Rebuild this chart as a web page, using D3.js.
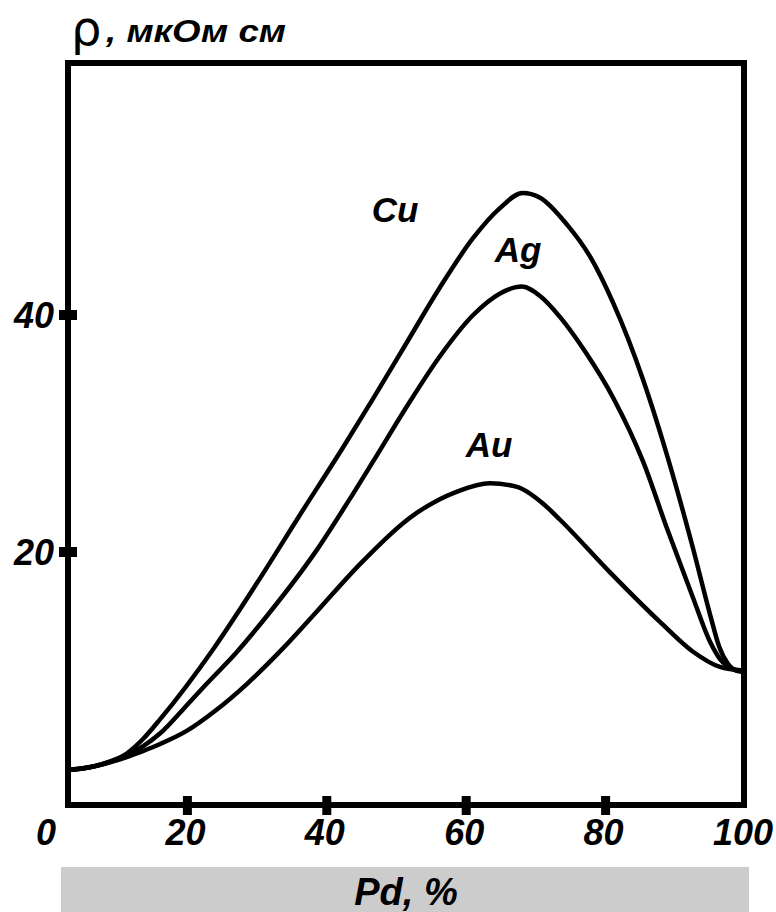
<!DOCTYPE html>
<html>
<head>
<meta charset="utf-8">
<script src="https://cdn.jsdelivr.net/npm/d3@7/dist/d3.min.js"></script>
<style>
  html, body { margin: 0; padding: 0; background: #fff; }
  svg { display: block; }
  .lbl { font-family: "Liberation Sans", Arial, sans-serif; font-weight: bold; font-style: italic; fill: #000; }
</style>
</head>
<body>
<script>
// ---- data (Pd, % vs resistivity, µΩ·cm) ----
const pdCu  = [2.9, 6.5, 11.3, 13.6, 16.1, 23.7, 30.0, 36.0, 42.3, 46.6, 51.5, 56.2, 61.0, 64.8, 68.1, 70.6, 74.5, 77.8, 81.1, 85.4, 89.2, 92.5, 95.0, 96.3, 97.5, 98.7, 99.7];
const rhoCu = [1.6, 1.9, 3.0, 4.2, 5.9, 11.8, 17.4, 23.0, 28.8, 32.9, 37.7, 42.3, 46.5, 49.0, 50.3, 49.9, 47.6, 44.9, 41.0, 34.5, 27.4, 20.4, 14.7, 12.0, 10.6, 10.0, 9.9];

const pdAg  = [2.9, 6.5, 11.3, 13.6, 16.1, 19.5, 22.8, 27.0, 31.4, 38.6, 42.9, 46.6, 51.5, 56.2, 61.0, 64.8, 68.0, 70.6, 73.5, 77.3, 81.1, 85.4, 88.8, 92.5, 95.0, 96.5, 98.0, 99.7];
const rhoAg = [1.6, 1.9, 2.9, 3.6, 4.7, 6.8, 8.9, 11.5, 14.6, 20.2, 24.1, 27.6, 32.3, 36.5, 40.0, 41.8, 42.4, 41.6, 39.8, 36.7, 33.0, 27.6, 22.0, 16.2, 12.4, 10.9, 10.2, 9.9];

const pdAu  = [2.9, 6.5, 11.3, 13.6, 16.1, 19.9, 24.0, 28.6, 33.6, 38.6, 44.8, 52.9, 58.7, 63.4, 67.3, 71.0, 73.5, 80.6, 87.8, 92.5, 96.4, 99.7];
const rhoAu = [1.6, 1.9, 2.7, 3.2, 3.8, 4.9, 6.6, 8.9, 11.8, 15.0, 19.0, 23.3, 25.1, 25.8, 25.5, 24.1, 22.7, 18.3, 14.1, 11.6, 10.3, 10.0];

const seriesNames = ["Cu", "Ag", "Au"];
const xTickMarks  = [20, 40, 60, 80];
const xTickLabels = [0, 20, 40, 60, 80, 100];
const yTicks      = [20, 40];

// ---- layout ----
const W = 776, H = 912;
const svg = d3.select("body").append("svg").attr("width", W).attr("height", H);

const x = d3.scaleLinear().domain([0, 100]).range([48, 745]);
const y = d3.scaleLinear().domain([0, 40]).range([789, 315]);

const frame = { left: 68, right: 744, top: 63, bottom: 805 };

// x-axis title band
svg.append("rect").attr("x", 61).attr("y", 867).attr("width", 688).attr("height", 45).attr("fill", "#cccccc");
svg.append("text").attr("class", "lbl").attr("x", 406).attr("y", 905)
  .attr("text-anchor", "middle").attr("font-size", 38).text("Pd, %");

// curves
const line = d3.line().x(d => x(d[0])).y(d => y(d[1])).curve(d3.curveMonotoneX);
const series = [
  { name: seriesNames[0], xs: pdCu, ys: rhoCu, lx: 395, ly: 222 },
  { name: seriesNames[1], xs: pdAg, ys: rhoAg, lx: 518, ly: 262 },
  { name: seriesNames[2], xs: pdAu, ys: rhoAu, lx: 489, ly: 457 }
];
series.forEach(s => {
  const pts = s.xs.map((v, i) => [v, s.ys[i]]);
  svg.append("path").attr("d", line(pts)).attr("fill", "none")
    .attr("stroke", "#000").attr("stroke-width", 4.5).attr("stroke-linecap", "round").attr("stroke-linejoin", "round");
  svg.append("text").attr("class", "lbl").attr("x", s.lx).attr("y", s.ly)
    .attr("text-anchor", "middle").attr("font-size", 35).text(s.name);
});

// frame
svg.append("rect").attr("x", frame.left).attr("y", frame.top)
  .attr("width", frame.right - frame.left).attr("height", frame.bottom - frame.top)
  .attr("fill", "none").attr("stroke", "#000").attr("stroke-width", 6);

// x ticks
svg.selectAll(".xt").data(xTickMarks).enter().append("rect")
  .attr("x", d => x(d) - 4.5).attr("y", frame.bottom - 9).attr("width", 9).attr("height", 19).attr("fill", "#000");
svg.selectAll(".xl").data(xTickLabels).enter().append("text").attr("class", "lbl")
  .attr("x", d => x(d) - 2).attr("y", 845).attr("text-anchor", "middle").attr("font-size", 36).text(d => d);

// y ticks
svg.selectAll(".yt").data(yTicks).enter().append("rect")
  .attr("x", frame.left - 9).attr("y", d => y(d) - 5).attr("width", 18).attr("height", 10).attr("fill", "#000");
svg.selectAll(".yl").data(yTicks).enter().append("text").attr("class", "lbl")
  .attr("x", 54).attr("y", d => y(d) + 13).attr("text-anchor", "end").attr("font-size", 36).text(d => d);

// y-axis title
svg.append("text").attr("x", 71).attr("y", 45)
  .attr("font-family", "'DejaVu Sans', sans-serif").attr("font-size", 48).text("ρ");
svg.append("text").attr("class", "lbl").attr("x", 106).attr("y", 42)
  .attr("font-size", 31).attr("textLength", 180).attr("lengthAdjust", "spacingAndGlyphs").text(", мкОм см");
</script>
</body>
</html>
